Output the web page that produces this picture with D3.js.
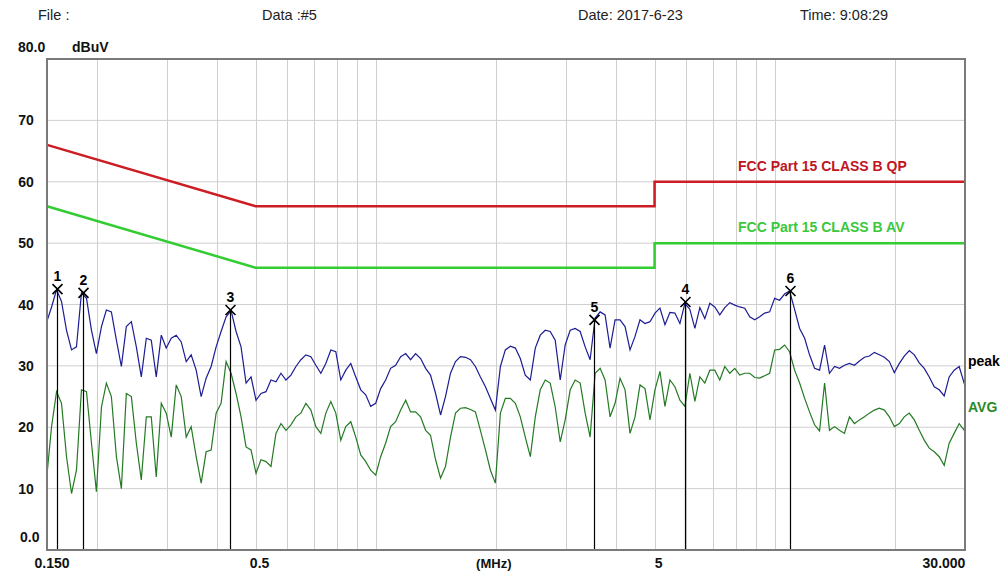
<!DOCTYPE html>
<html><head><meta charset="utf-8">
<script src="https://cdn.jsdelivr.net/npm/d3@7/dist/d3.min.js"></script>
<style>body{margin:0;background:#fff}svg{display:block}text{font-family:Arial,"Liberation Sans",sans-serif}</style>
</head><body><svg id="c" width="1006" height="575"></svg>
<script>
// sweep frequencies (MHz)
const freqs = [
0.150,0.154,0.1585,0.1631,0.1679,0.1728,0.1778,0.1830,0.1884,0.1939,0.1995,0.2054,0.2113,0.2175,0.2239,0.2304,0.2371,0.2441,0.2512,0.2585,0.2661,0.2738,0.2818,0.2901,0.2985,0.3073,0.3162,0.3255,0.3350,0.3447,0.3548,0.3652,0.3758,0.3868,0.3981,0.4097,0.4217,0.4340,0.4467,0.4597,0.4732,0.4870,0.5012,0.5158,0.5309,0.5464,0.5623,0.5788,0.5957,0.6131,0.6310,0.6494,0.6683,0.6879,0.7079,0.7286,0.7499,0.7718,0.7943,0.8175,0.8414,0.8660,0.8913,0.9173,0.9441,0.9716,
1.000,1.029,1.059,1.090,1.122,1.155,1.189,1.223,1.259,1.296,1.334,1.372,1.413,1.454,1.496,1.540,1.585,1.631,1.679,1.728,1.778,1.830,1.884,1.939,1.995,2.054,2.113,2.175,2.239,2.304,2.371,2.441,2.512,2.585,2.661,2.738,2.818,2.901,2.985,3.073,3.162,3.255,3.350,3.447,3.548,3.652,3.758,3.868,3.981,4.097,4.217,4.340,4.467,4.597,4.732,4.870,5.012,5.158,5.309,5.464,5.623,5.788,5.957,6.131,6.310,6.494,6.683,6.879,7.079,7.286,7.499,7.718,7.943,8.175,8.414,8.660,8.913,9.173,9.441,9.716,
10.00,10.29,10.59,10.90,11.22,11.55,11.89,12.23,12.59,12.96,13.34,13.72,14.13,14.54,14.96,15.40,15.85,16.31,16.79,17.28,17.78,18.30,18.84,19.39,19.95,20.54,21.13,21.75,22.39,23.04,23.71,24.41,25.12,25.85,26.61,27.38,28.18,29.01,29.85,30.00];

// peak detector trace (dBuV)
const peak = [
37.3,39.6,42.4,40.5,35.8,32.6,33.1,41.9,41.0,35.8,32.0,36.4,39.1,38.8,34.2,29.9,36.4,37.2,33.1,28.2,34.5,34.2,28.2,35.0,32.9,34.5,35.0,33.9,30.7,31.8,29.3,25.0,28.0,29.9,33.1,35.6,38.0,39.0,35.6,33.1,27.2,28.2,24.4,25.5,25.8,27.7,27.4,28.8,27.7,28.5,29.9,31.0,31.8,31.5,30.1,28.8,30.4,32.6,32.3,27.7,29.3,30.4,28.2,26.1,25.3,23.4,
23.9,26.3,27.7,29.6,30.1,31.5,32.0,31.0,32.0,31.2,29.6,28.5,25.5,22.0,25.0,28.8,30.7,31.5,31.4,31.0,29.9,28.2,26.6,24.7,22.8,29.9,32.6,33.2,32.9,31.2,28.5,27.7,32.9,35.0,35.8,35.6,34.2,27.7,33.4,35.8,36.1,35.6,33.1,31.0,37.8,38.8,38.3,32.9,37.5,37.5,36.4,32.6,34.8,37.5,36.9,37.2,38.6,39.4,36.7,38.7,38.6,36.9,40.2,39.2,36.1,39.5,37.7,40.2,39.6,38.3,39.5,40.3,39.9,39.6,39.4,38.0,37.5,38.0,38.6,38.8,
41.0,40.7,41.7,42.2,39.2,36.1,34.5,31.8,29.6,29.3,33.4,28.8,29.9,29.6,30.1,30.4,30.1,30.8,31.4,31.6,32.2,31.8,31.4,30.7,28.9,30.4,31.6,32.5,31.8,30.5,29.6,28.2,26.6,26.1,25.1,28.2,29.3,29.9,27.2,27.4];

// average detector trace (dBuV)
const avg = [
12.3,20.1,25.8,23.9,15.2,9.2,13.0,26.1,25.8,17.4,9.5,23.3,27.2,25.0,15.2,10.0,25.5,25.0,17.4,11.4,21.7,21.7,11.9,23.9,22.3,18.4,26.9,25.0,18.4,20.1,15.2,10.9,16.0,16.3,22.3,23.9,30.7,28.8,25.5,21.7,16.8,16.3,12.5,14.7,14.4,13.6,19.0,20.6,19.5,20.4,21.7,22.3,23.9,22.8,20.1,19.0,22.3,24.2,22.3,17.9,20.1,20.9,18.4,15.5,14.4,13.0,
12.2,15.2,17.4,20.1,20.9,22.8,24.4,22.5,22.5,21.7,19.5,18.7,14.7,11.7,13.6,18.4,22.3,23.1,23.2,22.9,22.5,19.5,16.3,13.0,10.9,22.3,24.7,24.7,23.9,21.7,18.4,15.2,21.7,26.1,27.7,27.2,23.3,17.6,21.2,26.1,27.7,27.2,22.3,18.4,28.8,29.6,27.7,21.7,23.9,28.0,26.1,19.0,21.7,26.9,26.3,21.2,26.1,29.1,23.4,27.7,26.6,24.4,23.4,28.8,24.2,28.2,27.2,29.3,29.3,27.7,29.9,28.8,29.6,28.5,28.8,28.8,28.1,28.0,28.4,28.8,
32.6,32.7,33.4,32.3,29.3,27.2,24.7,22.5,20.4,19.4,27.2,19.5,20.1,19.5,19.0,21.7,20.6,21.2,21.7,22.3,22.8,23.1,22.8,21.7,20.1,20.6,21.7,22.3,21.2,19.5,17.9,16.6,16.0,15.2,13.8,17.4,19.0,20.6,19.5,20.5];

// limit lines
const qpLimit = [[0.15,66],[0.5,56],[5,56],[5,60],[30,60]];
const avLimit = [[0.15,56],[0.5,46],[5,46],[5,50],[30,50]];

// markers
const markerIds = ["1","2","3","5","4","6"];
const markerFreqs = [0.159,0.185,0.431,3.52,5.96,10.9];
const markerLevels = [42.5,41.9,39.1,37.5,40.4,42.2];

const yTicks = [10,20,30,40,50,60,70];
const xGrid = [0.2,0.3,0.4,0.5,0.6,0.7,0.8,0.9,1,2,3,4,5,6,7,8,9,10,20];
const xTickVals = [0.15,0.5,5,30];
const xTickText = ["0.150","0.5","5","30.000"];
const headerText = ["File :","Data :#5","Date: 2017-6-23","Time: 9:08:29"];
const headerX = [38,262,578,800];

const svg = d3.select("#c");
const L=47,R=965,T=59,B=550;
const x = d3.scaleLog().domain([0.15,30]).range([L,R]);
const y = d3.scaleLinear().domain([0,80]).range([B,T]);

// header
svg.selectAll("text.hdr").data(headerText).join("text").attr("class","hdr")
  .attr("x",(d,i)=>headerX[i]).attr("y",20).attr("font-size",14.5).attr("fill","#222").text(d=>d);

// grid
const g = svg.append("g");
g.selectAll("line.hg").data(yTicks).join("line")
  .attr("x1",L).attr("x2",R).attr("y1",d=>y(d)).attr("y2",d=>y(d))
  .attr("stroke","#cfcfcf").attr("stroke-width",1);
g.selectAll("line.vg").data(xGrid).join("line")
  .attr("x1",d=>Math.round(x(d))+0.5).attr("x2",d=>Math.round(x(d))+0.5).attr("y1",T).attr("y2",B)
  .attr("stroke","#cfcfcf").attr("stroke-width",1);

// y labels
svg.selectAll("text.yl").data(yTicks).join("text")
  .attr("x",26).attr("y",d=>y(d)+5).attr("text-anchor","middle")
  .attr("font-size",14).attr("font-weight","bold").attr("fill","#111").text(d=>d);
svg.append("text").attr("x",18).attr("y",y(80)-7).attr("font-size",14).attr("font-weight","bold").attr("fill","#111").text("80.0");
svg.append("text").attr("x",72).attr("y",y(80)-7).attr("font-size",14).attr("font-weight","bold").attr("fill","#111").text("dBuV");
svg.append("text").attr("x",20).attr("y",y(0)-8).attr("font-size",14).attr("font-weight","bold").attr("fill","#111").text("0.0");

// x labels
svg.selectAll("text.xl").data(xTickVals).join("text")
  .attr("x",(d,i)=> i===0 ? x(d)+5 : (i===3 ? x(d)-21 : x(d)+4)).attr("y",568).attr("text-anchor","middle")
  .attr("font-size",14).attr("font-weight","bold").attr("fill","#111").text((d,i)=>xTickText[i]);
svg.append("text").attr("x",x(2)-2).attr("y",568).attr("text-anchor","middle")
  .attr("font-size",13).attr("font-weight","bold").attr("fill","#111").text("(MHz)");

// limit lines
const lim = d3.line().x(d=>x(d[0])).y(d=>y(d[1]));
svg.append("path").attr("d",lim(qpLimit)).attr("fill","none").attr("stroke","#cc1c24").attr("stroke-width",2.5);
svg.append("path").attr("d",lim(avLimit)).attr("fill","none").attr("stroke","#33cc33").attr("stroke-width",2.5);
svg.append("text").attr("x",738).attr("y",171).attr("font-size",14).attr("font-weight","bold").attr("fill","#c0141e").text("FCC Part 15 CLASS B QP");
svg.append("text").attr("x",738).attr("y",232).attr("font-size",14).attr("font-weight","bold").attr("fill","#3cc83c").text("FCC Part 15 CLASS B AV");

// traces
const tr = d3.line().x((d,i)=>x(freqs[i])).y(d=>y(d));
svg.append("path").attr("d",tr(avg)).attr("fill","none").attr("stroke","#237a23").attr("stroke-width",1.2);
svg.append("path").attr("d",tr(peak)).attr("fill","none").attr("stroke","#1c1c94").attr("stroke-width",1.2);

// markers
const mk = svg.append("g");
markerIds.forEach((id,i)=>{
  const mx = Math.round(x(markerFreqs[i]))+0.5, my = y(markerLevels[i]);
  mk.append("line").attr("x1",mx).attr("x2",mx).attr("y1",my).attr("y2",B).attr("stroke","#000").attr("stroke-width",1.2);
  mk.append("path").attr("d",`M${mx-5},${my-5}L${mx+5},${my+5}M${mx-5},${my+5}L${mx+5},${my-5}`).attr("stroke","#000").attr("stroke-width",1.6);
  mk.append("text").attr("x",mx).attr("y",my-8).attr("text-anchor","middle").attr("font-size",14).attr("font-weight","bold").attr("fill","#000").text(id);
});

// trace labels
svg.append("text").attr("x",968).attr("y",366).attr("font-size",14).attr("font-weight","bold").attr("fill","#000").text("peak");
svg.append("text").attr("x",968).attr("y",412).attr("font-size",14).attr("font-weight","bold").attr("fill","#2a8a2a").text("AVG");

// frame
svg.append("rect").attr("x",L).attr("y",T).attr("width",R-L).attr("height",B-T)
  .attr("fill","none").attr("stroke","#7a7a7a").attr("stroke-width",2);
</script></body></html>
